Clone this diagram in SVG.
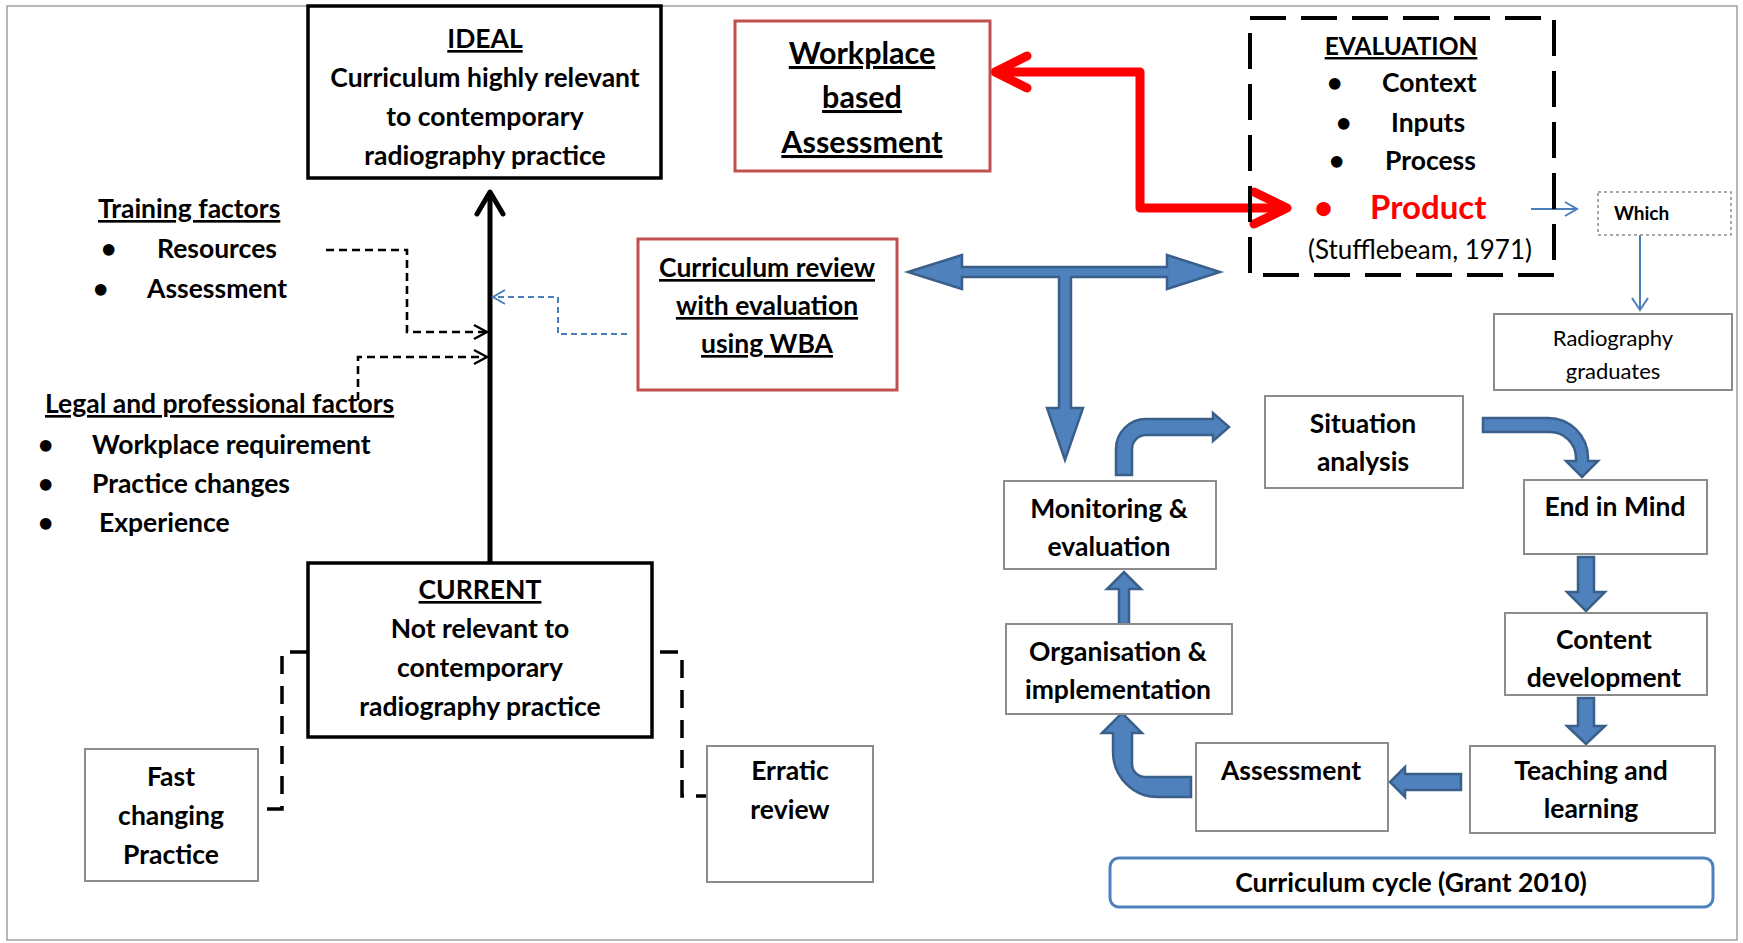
<svg xmlns="http://www.w3.org/2000/svg" width="1743" height="943" viewBox="0 0 1743 943">
  <style>
    text { font-family: Lato, "Open Sans", "Liberation Sans", sans-serif; fill: #000; }
    .b { font-weight: 700; font-size: 26.5px; }
    .c { text-anchor: middle; }
    .u { text-decoration: underline; }
    .reg { font-weight: 400; }
    .big { font-size: 30.5px; }
    .rd { fill: #ff0000; font-size: 33px; }
    .blk { fill: #fff; stroke: #000; stroke-width: 3.5; }
    .red { fill: #fff; stroke: #c0504d; stroke-width: 3; }
    .gry { fill: #fff; stroke: #8c8c8c; stroke-width: 2; }
    .blue { fill: #4f81bd; stroke: #3a5f8b; stroke-width: 2.5; stroke-linejoin: miter; }
    .dash { fill: none; stroke: #000; stroke-width: 2.6; stroke-dasharray: 8 5; }
    .thin { fill: none; stroke: #000; stroke-width: 2.4; }
    .bracket { fill: none; stroke: #000; stroke-width: 3.5; stroke-dasharray: 18 12; }
    .redline { fill: none; stroke: #ff0000; stroke-width: 9; stroke-linecap: round; stroke-linejoin: round; }
    .bl { fill: none; stroke: #4a7ebb; stroke-width: 2; }
  </style>

  <!-- page frame -->
  <rect x="7" y="6" width="1730" height="934" fill="#fff" stroke="#a0a0a0" stroke-width="1.5"/>

  <g id="connectors">
    <!-- current -> ideal -->
    <line x1="490" y1="563" x2="490" y2="193" stroke="#000" stroke-width="5"/>
    <path d="M477,214 L490,192 L503,214" fill="none" stroke="#000" stroke-width="5" stroke-linecap="round" stroke-linejoin="round"/>
    <!-- training factors -->
    <path class="dash" d="M326,250 H407 V332 H486"/>
    <path class="thin" d="M474,325 L487,332 L474,339"/>
    <!-- legal and professional factors -->
    <path class="dash" d="M358,400 V357 H486"/>
    <path class="thin" d="M474,350 L487,357 L474,364"/>
    <!-- curriculum review feedback -->
    <path d="M627,334 H558 V297 H494" fill="none" stroke="#4a7ebb" stroke-width="2" stroke-dasharray="6 4"/>
    <path class="bl" d="M505,290 L493,297 L505,304"/>
    <!-- brackets to side boxes -->
    <path class="bracket" d="M308,652 H282 V809 H258"/>
    <path class="bracket" d="M660,652 H682 V796 H707"/>
    <!-- workplace based assessment <-> product -->
    <path class="redline" d="M996,72 H1140 V208 H1285"/>
    <path class="redline" d="M1027,56 L995,72 L1027,88"/>
    <path class="redline" d="M1254,192 L1287,208 L1254,224"/>
    <!-- product -> which -> graduates -->
    <line class="bl" x1="1531" y1="209" x2="1576" y2="209"/>
    <path class="bl" d="M1565,202 L1577,209 L1565,216"/>
    <line class="bl" x1="1640" y1="235" x2="1640" y2="309"/>
    <path class="bl" d="M1632,298 L1640,310 L1648,298"/>
    <!-- review T arrow -->
    <path class="blue" d="M908,272 L962,255 L962,267 L1167,267 L1167,255 L1220,272 L1167,289 L1167,277 L1071,277 L1071,408 L1083,408 L1065,460 L1047,408 L1059,408 L1059,277 L962,277 L962,289 Z"/>
    <!-- curriculum cycle arrows -->
    <path class="blue" d="M1116,475 L1116,449 A30,30 0 0 1 1146,419 L1213,419 L1213,413 L1229,427 L1213,441 L1213,435 L1146,435 A14,14 0 0 0 1132,449 L1132,475 Z"/>
    <path class="blue" d="M1483,418 L1548,418 A40,40 0 0 1 1588,458 L1588,461 L1598,461 L1582,477 L1566,461 L1576,461 L1576,458 A26,26 0 0 0 1550,432 L1483,432 Z"/>
    <path class="blue" d="M1578,557 L1594,557 L1594,592 L1605,592 L1586,611 L1567,592 L1578,592 Z"/>
    <path class="blue" d="M1578,698 L1594,698 L1594,726 L1605,726 L1586,744 L1567,726 L1578,726 Z"/>
    <path class="blue" d="M1461,774 L1461,790 L1405,790 L1405,797 L1390,782 L1405,767 L1405,774 Z"/>
    <path class="blue" d="M1191,777 L1145,777 A13,13 0 0 1 1132,764 L1132,733 L1142,733 L1122,713 L1102,733 L1113,733 L1113,752 A45,45 0 0 0 1158,797 L1191,797 Z"/>
    <path class="blue" d="M1119,624 L1119,589 L1107,589 L1124,572 L1141,589 L1129,589 L1129,624 Z"/>
  </g>

  <g id="ideal">
    <rect class="blk" x="308" y="6" width="353" height="172"/>
    <text class="b c u" x="485" y="48">IDEAL</text>
    <text class="b c" x="485" y="87">Curriculum highly relevant</text>
    <text class="b c" x="485" y="126">to contemporary</text>
    <text class="b c" x="485" y="165">radiography practice</text>
  </g>

  <g id="workplace-based-assessment">
    <rect class="red" x="735" y="21" width="255" height="150"/>
    <text class="b big c u" x="862" y="64">Workplace</text>
    <text class="b big c u" x="862" y="108">based</text>
    <text class="b big c u" x="862" y="153">Assessment</text>
  </g>

  <g id="evaluation">
    <rect x="1250" y="18" width="304" height="257" fill="none" stroke="#000" stroke-width="4" stroke-dasharray="36 15"/>
    <text class="b c u" x="1401" y="55" style="font-size:24.5px">EVALUATION</text>
    <text class="b" x="1327" y="92">•</text>
    <text class="b" x="1382" y="92">Context</text>
    <text class="b" x="1336" y="132">•</text>
    <text class="b" x="1391" y="132">Inputs</text>
    <text class="b" x="1329" y="170">•</text>
    <text class="b" x="1385" y="170">Process</text>
    <text class="b rd" x="1314" y="219">•</text>
    <text class="b rd" x="1370" y="219">Product</text>
    <text class="reg c" x="1420" y="259" font-size="26">(Stufflebeam, 1971)</text>
  </g>

  <g id="which">
    <rect x="1598" y="192" width="133" height="43" fill="#fff" stroke="#8c8c8c" stroke-width="1.5" stroke-dasharray="3 3"/>
    <text class="b" x="1614" y="220" style="font-size:19px">Which</text>
  </g>

  <g id="radiography-graduates">
    <rect class="gry" x="1494" y="314" width="238" height="76"/>
    <text class="reg c" x="1613" y="346" font-size="22">Radiography</text>
    <text class="reg c" x="1613" y="379" font-size="22">graduates</text>
  </g>

  <g id="curriculum-review">
    <rect class="red" x="638" y="239" width="259" height="151"/>
    <text class="b c u" x="767" y="277">Curriculum review</text>
    <text class="b c u" x="767" y="315">with evaluation</text>
    <text class="b c u" x="767" y="353">using WBA</text>
  </g>

  <g id="training-factors">
    <text class="b u" x="98" y="218">Training factors</text>
    <text class="b" x="101" y="258">•</text>
    <text class="b" x="157" y="258">Resources</text>
    <text class="b" x="93" y="298">•</text>
    <text class="b" x="147" y="298">Assessment</text>
  </g>

  <g id="legal-professional-factors">
    <text class="b u" x="45" y="413">Legal and professional factors</text>
    <text class="b" x="38" y="454">•</text>
    <text class="b" x="92" y="454">Workplace requirement</text>
    <text class="b" x="38" y="493">•</text>
    <text class="b" x="92" y="493">Practice changes</text>
    <text class="b" x="38" y="532">•</text>
    <text class="b" x="99" y="532">Experience</text>
  </g>

  <g id="current">
    <rect class="blk" x="308" y="563" width="344" height="174"/>
    <text class="b c u" x="480" y="599">CURRENT</text>
    <text class="b c" x="480" y="638">Not relevant to</text>
    <text class="b c" x="480" y="677">contemporary</text>
    <text class="b c" x="480" y="716">radiography practice</text>
  </g>

  <g id="fast-changing-practice">
    <rect class="gry" x="85" y="749" width="173" height="132"/>
    <text class="b c" x="171" y="786">Fast</text>
    <text class="b c" x="171" y="825">changing</text>
    <text class="b c" x="171" y="864">Practice</text>
  </g>

  <g id="erratic-review">
    <rect class="gry" x="707" y="746" width="166" height="136"/>
    <text class="b c" x="790" y="780">Erratic</text>
    <text class="b c" x="790" y="819">review</text>
  </g>

  <g id="situation-analysis">
    <rect class="gry" x="1265" y="396" width="198" height="92"/>
    <text class="b c" x="1363" y="433">Situation</text>
    <text class="b c" x="1363" y="471">analysis</text>
  </g>

  <g id="end-in-mind">
    <rect class="gry" x="1524" y="480" width="183" height="74"/>
    <text class="b c" x="1615" y="516">End in Mind</text>
  </g>

  <g id="content-development">
    <rect class="gry" x="1505" y="613" width="202" height="82"/>
    <text class="b c" x="1604" y="649">Content</text>
    <text class="b c" x="1604" y="687">development</text>
  </g>

  <g id="teaching-learning">
    <rect class="gry" x="1470" y="746" width="245" height="87"/>
    <text class="b c" x="1591" y="780">Teaching and</text>
    <text class="b c" x="1591" y="818">learning</text>
  </g>

  <g id="assessment">
    <rect class="gry" x="1196" y="743" width="192" height="88"/>
    <text class="b c" x="1291" y="780">Assessment</text>
  </g>

  <g id="organisation-implementation">
    <rect class="gry" x="1006" y="624" width="226" height="90"/>
    <text class="b c" x="1118" y="661">Organisation &amp;</text>
    <text class="b c" x="1118" y="699">implementation</text>
  </g>

  <g id="monitoring-evaluation">
    <rect class="gry" x="1004" y="481" width="212" height="88"/>
    <text class="b c" x="1109" y="518">Monitoring &amp;</text>
    <text class="b c" x="1109" y="556">evaluation</text>
  </g>

  <g id="curriculum-cycle">
    <rect x="1110" y="858" width="603" height="49" rx="9" fill="#fff" stroke="#4f81bd" stroke-width="3"/>
    <text class="b c" x="1411" y="892">Curriculum cycle (Grant 2010)</text>
  </g>
</svg>
